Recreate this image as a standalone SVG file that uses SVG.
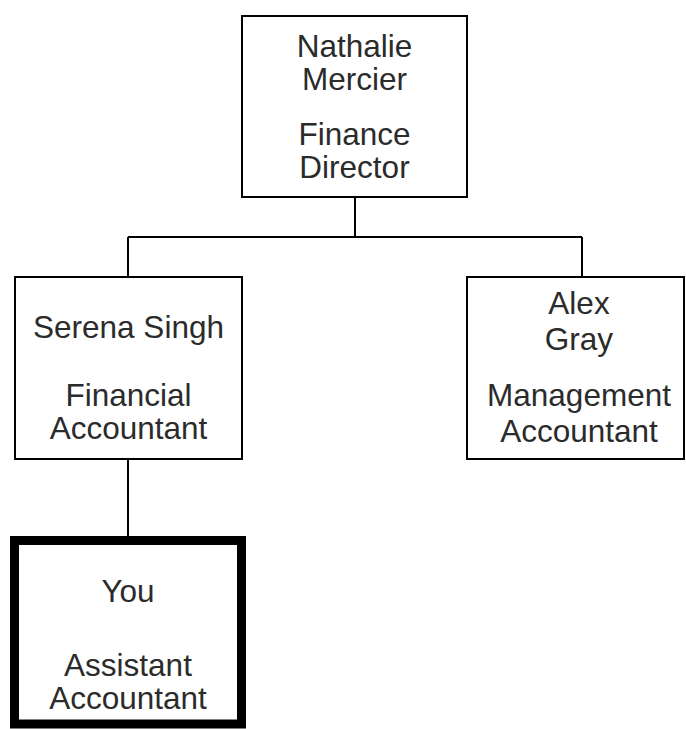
<svg xmlns="http://www.w3.org/2000/svg" width="686" height="729" viewBox="0 0 686 729">
<style>
.box{fill:#fff;stroke:#000;stroke-width:2}
.me{fill:#fff;stroke:#000;stroke-width:9}
.t{font-family:"Liberation Sans",Arial,sans-serif;font-size:31.5px;fill:#2b2b2b;text-anchor:middle}
.c{fill:none;stroke:#000;stroke-width:2}
</style>
<rect width="686" height="729" fill="#fff"/>
<g id="connectors">
<path class="c" d="M355 198V237M128 237H582M128 237V277M582 237V277M128 459V540"/>
</g>
<g id="n-director">
<rect class="box" x="242" y="16" width="225" height="181"/>
<text class="t" x="354.5" y="57">Nathalie</text>
<text class="t" x="354.5" y="90">Mercier</text>
<text class="t" x="354.5" y="145">Finance</text>
<text class="t" x="354.5" y="178">Director</text>
</g>
<g id="n-financial">
<rect class="box" x="15" y="277" width="227" height="182"/>
<text class="t" x="128.5" y="338">Serena Singh</text>
<text class="t" x="128.5" y="406">Financial</text>
<text class="t" x="128.5" y="439">Accountant</text>
</g>
<g id="n-management">
<rect class="box" x="467" y="277" width="217" height="182"/>
<text class="t" x="579" y="314">Alex</text>
<text class="t" x="579" y="350">Gray</text>
<text class="t" x="579" y="406">Management</text>
<text class="t" x="579" y="442">Accountant</text>
</g>
<g id="n-you">
<rect class="me" x="14.5" y="540.5" width="227" height="183.5"/>
<text class="t" x="128" y="602">You</text>
<text class="t" x="128" y="676">Assistant</text>
<text class="t" x="128" y="709">Accountant</text>
</g>
</svg>
